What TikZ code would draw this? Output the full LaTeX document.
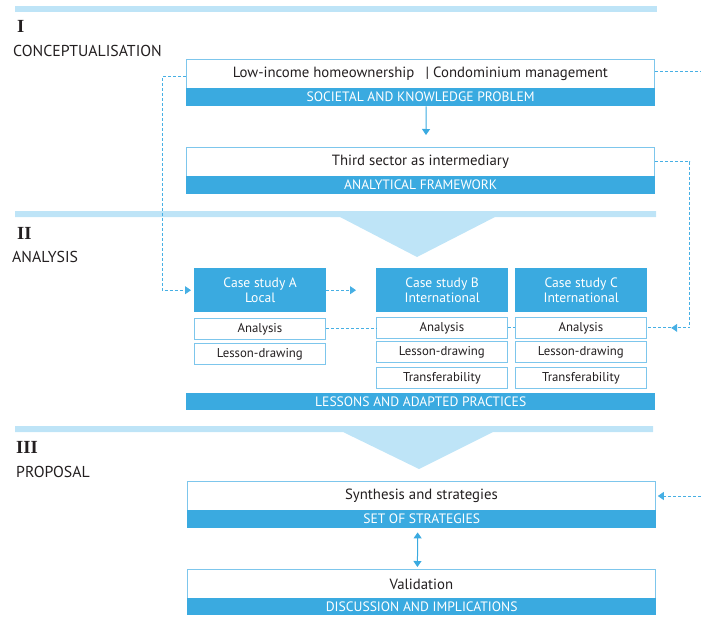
\documentclass[tikz,border=0pt]{standalone}
\usepackage{fontspec}
\setmainfont{PT Sans}
\newfontfamily\numfont{Liberation Serif}
\usetikzlibrary{arrows.meta,decorations.markings}

\definecolor{bandblue}{RGB}{58,170,224}
\definecolor{barblue}{RGB}{190,228,247}
\definecolor{boxline}{RGB}{125,198,236}
\definecolor{dashblue}{RGB}{70,175,228}
\definecolor{textgray}{RGB}{35,31,32}

\tikzset{
  topicbox/.style={draw=boxline, line width=0.8pt, fill=white, anchor=north west,
    minimum width=468pt, minimum height=29pt, inner sep=0pt, text=textgray,
    font=\fontsize{14.8}{17}\selectfont},
  bandbox/.style={fill=bandblue, anchor=north west, minimum width=469pt,
    minimum height=18pt, inner sep=0pt, text=white, font=\fontsize{13.6}{15}\selectfont},
  casebox/.style={fill=bandblue, anchor=north west, minimum width=132pt,
    minimum height=44pt, inner sep=0pt, align=center, text=white,
    font=\fontsize{13.6}{15.5}\selectfont},
  stepbox/.style={draw=boxline, line width=0.8pt, fill=white, anchor=north west,
    minimum width=131pt, minimum height=21pt, inner sep=0pt, text=textgray,
    font=\fontsize{12.8}{14}\selectfont},
  phasebar/.style={fill=barblue},
  phasenum/.style={anchor=north west, inner sep=0pt, text=textgray,
    font=\numfont\bfseries\fontsize{18.5}{21}\selectfont},
  phasename/.style={anchor=north west, inner sep=0pt, text=textgray,
    font=\fontsize{15.8}{18}\selectfont},
  dashlink/.style={draw=dashblue, line width=0.9pt, dash pattern=on 3pt off 2pt},
  dashtip/.style={-{Triangle[width=8pt,length=6pt]}},
  midtip/.style={postaction={decorate}, decoration={markings,
    mark=at position 0.9 with {\arrow{Triangle[width=8pt,length=6pt]}}}},
  flow/.style={draw=bandblue, line width=1pt}
}

\begin{document}
\begin{tikzpicture}[x=1pt,y=-1pt]
    \useasboundingbox (0,0) rectangle (701,629);

    % Draw the phase bars
    \fill[phasebar] (15,6) rectangle (657,12);
    \fill[phasebar] (15,211) -- (656,211) -- (656,217) -- (495,217) -- (417,257)
        -- (340,217) -- (15,217) -- cycle;
    \fill[phasebar] (15,426) -- (653,426) -- (653,432) -- (493,432) -- (419,469)
        -- (343,432) -- (15,432) -- cycle;

    % Phase labels
    \node[phasenum] (numI) at (17,20) {I};
    \node[phasename] (nameI) at (13,45) {CONCEPTUALISATION};
    \node[phasenum] (numII) at (17,227) {II};
    \node[phasename] (nameII) at (12,251) {ANALYSIS};
    \node[phasenum] (numIII) at (16,441) {III};
    \node[phasename] (nameIII) at (16,466) {PROPOSAL};

    % Phase I boxes
    \node[topicbox] (probbox) at (186,59) {Low-income homeownership \enspace| Condominium management};
    \node[bandbox] (probband) at (186,88) {SOCIETAL AND KNOWLEDGE PROBLEM};
    \node[topicbox] (thirdbox) at (186,147) {Third sector as intermediary};
    \node[bandbox] (thirdband) at (186,176) {ANALYTICAL FRAMEWORK};

    % Phase II case studies
    \node[casebox] (caseA) at (194,268) {Case study A\\Local};
    \node[casebox] (caseB) at (376,268) {Case study B\\International};
    \node[casebox] (caseC) at (515,268) {Case study C\\International};

    \node[stepbox] (aAna) at (194,318) {Analysis};
    \node[stepbox] (aLes) at (194,343) {Lesson-drawing};

    \node[stepbox] (bAna) at (376,317) {Analysis};
    \node[stepbox] (bLes) at (376,341) {Lesson-drawing};
    \node[stepbox] (bTra) at (376,367) {Transferability};

    \node[stepbox] (cAna) at (515,317) {Analysis};
    \node[stepbox] (cLes) at (515,341) {Lesson-drawing};
    \node[stepbox] (cTra) at (515,367) {Transferability};

    \node[bandbox, minimum height=17pt] (lessband) at (186,393) {LESSONS AND ADAPTED PRACTICES};

    % Phase III boxes
    \node[topicbox] (synbox) at (187,481) {Synthesis and strategies};
    \node[bandbox] (synband) at (187,510) {SET OF STRATEGIES};
    \node[topicbox] (valbox) at (187,569) {Validation};
    \node[bandbox, minimum height=17pt] (valband) at (187,598) {DISCUSSION AND IMPLICATIONS};

    % Loose ends at the right border
    \coordinate (offtop) at (701,71);
    \coordinate (offbottom) at (701,496);

    % Draw the connections
    \draw[dashlink, dashtip, shorten >=3pt] ([yshift=-3pt]probbox.west) -- ++(-24,0) |- (caseA.west);
    \draw[dashlink] (probbox.east |- offtop) -- (offtop);
    \draw[flow, dashtip, shorten >=12pt] ([xshift=5.5pt]probband.south) -- ([xshift=5.5pt]thirdbox.north);
    \draw[dashlink, midtip] (thirdbox.east) -- ++(35,0) |- (cAna.east);
    \draw[dashlink, dashtip, shorten >=20pt] (caseA.east) -- (caseB.west);
    \draw[dashlink] (aAna.east) -- (aAna.east -| bAna.west);
    \draw[dashlink] (bAna.east) -- (cAna.west);
    \draw[dashlink, dashtip, shorten >=2pt] (offbottom) -- (offbottom -| synbox.east);
    \draw[flow, {Triangle[width=8pt,length=6pt]}-{Triangle[width=8pt,length=6pt]},
        shorten <=4pt, shorten >=2pt] ([xshift=-4pt]synband.south) -- ([xshift=-4pt]valbox.north);

\end{tikzpicture}
\end{document}
